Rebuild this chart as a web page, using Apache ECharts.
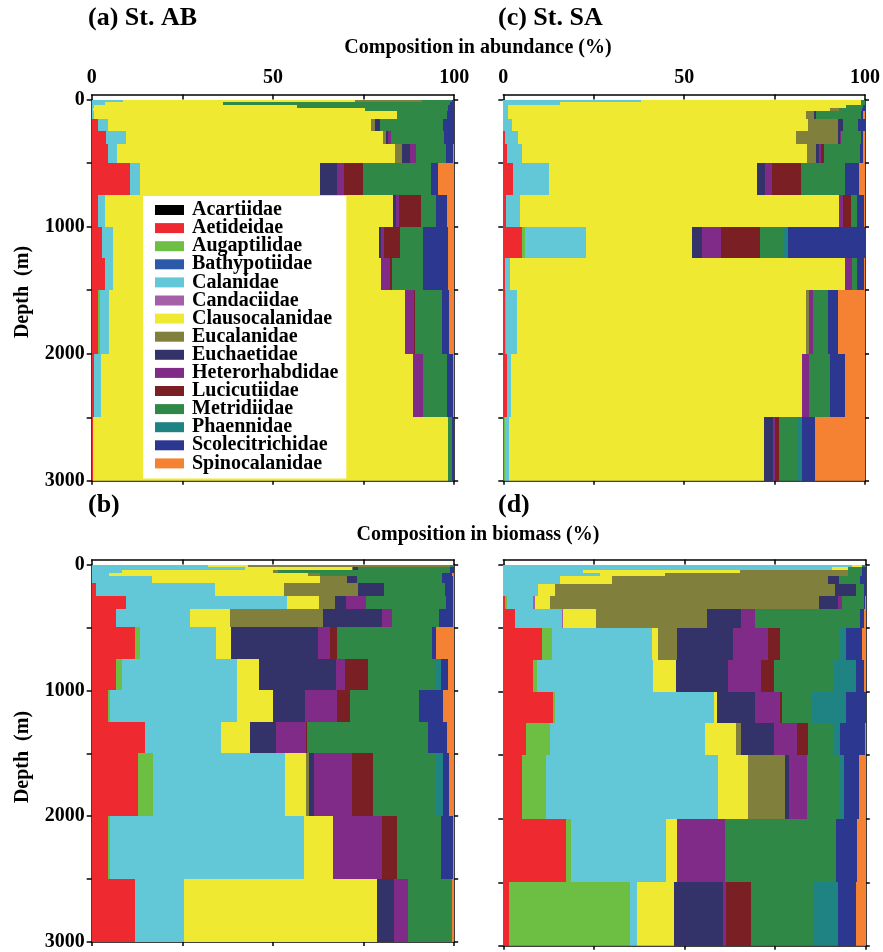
<!DOCTYPE html>
<html>
<head>
<meta charset="utf-8">
<script src="https://cdn.jsdelivr.net/npm/echarts@6/dist/echarts.min.js"></script>
<style>
html, body { margin: 0; padding: 0; background: #fff; }
#main { width: 883px; height: 952px; }
</style>
</head>
<body>
<div id="main"></div>
<script>
const families = ['Acartiidae', 'Aetideidae', 'Augaptilidae', 'Bathypotiidae', 'Calanidae',
    'Candaciidae', 'Clausocalanidae', 'Eucalanidae', 'Euchaetidae', 'Heterorhabdidae',
    'Lucicutiidae', 'Metridiidae', 'Phaennidae', 'Scolecitrichidae', 'Spinocalanidae'];
const familyColors = ['#000000', '#EE2A30', '#6DBF44', '#2A5AA8', '#62C8D7',
    '#A45FA8', '#F0E931', '#807F3C', '#33336A', '#7F2B87',
    '#7A1F24', '#2F8846', '#1F8384', '#2C3790', '#F58232'];

// depth layer edges (m)
const depthEdges = [0, 20, 40, 65, 90, 150, 250, 350, 500, 750, 1000, 1250, 1500, 2000, 2500, 3000];

// one row per depth layer, one value per family (same order as families), %
const abundAB = [
    [0, 0, 0, 0, 8.5, 0, 64, 18.5, 0, 0, 0, 8.3, 0, 0.7, 0],
    [0, 0, 0, 0, 3.7, 0, 32.6, 0, 0, 0, 0, 62.5, 0, 1.2, 0],
    [0, 0, 0, 0, 0.5, 0, 56, 0, 0, 0, 0, 41.8, 0, 1.7, 0],
    [0, 0, 0, 0, 0.4, 0, 75, 0, 0, 0, 0, 22.8, 0, 1.8, 0],
    [0, 0, 0, 0, 0.5, 0, 83.6, 0, 0, 0, 0, 13.8, 0, 2.1, 0],
    [0, 1.7, 0, 0, 2.8, 0, 72.6, 1.1, 1.4, 0, 0, 17.2, 0, 3.2, 0],
    [0, 3.9, 0, 0, 5.5, 0, 71, 0.7, 0.6, 0.9, 0, 14.5, 0, 2.8, 0.1],
    [0, 4.6, 0, 0, 2.5, 0, 76.7, 1.9, 2.2, 1.5, 0, 8.2, 0, 2.1, 0.3],
    [0, 10.6, 0, 0, 2.6, 0, 49.8, 0, 4.8, 1.8, 5.3, 18.8, 0, 1.8, 4.5],
    [0, 1.6, 0, 0, 2.1, 0, 79.5, 0, 0.7, 0.8, 6.1, 4.3, 0, 3, 1.9],
    [0, 2.8, 0, 0, 3.2, 0, 73.3, 0, 0.5, 0.8, 4.4, 6.3, 0, 7.1, 1.6],
    [0, 3.7, 0, 0, 2.3, 0, 73.8, 0, 0, 2.5, 0.6, 8.5, 0, 6.9, 1.7],
    [0, 1.8, 0.6, 0, 2.4, 0, 81.5, 0, 0, 2.6, 0.3, 7.3, 0, 2.1, 1.4],
    [0, 0.7, 0, 0, 2, 0, 86, 0, 0, 2.6, 0.2, 6.4, 0, 1.8, 0.3],
    [0, 0.3, 0, 0, 0, 0, 97.9, 0, 0, 0, 0, 1.2, 0, 0.6, 0]
];
const abundSA = [
    [0, 0, 0, 0, 38.2, 0, 60.7, 0, 0, 0, 0, 1.1, 0, 0, 0],
    [0, 0, 0, 0, 15.6, 0, 83.3, 0, 0, 0, 0, 1.1, 0, 0, 0],
    [0, 0, 0, 0, 1.4, 0, 93.4, 0, 0, 0, 0, 4.6, 0, 0.6, 0],
    [0, 0, 0, 0, 1.4, 0, 89, 2.3, 0, 0, 0, 6.4, 0, 0.9, 0],
    [0, 0, 0, 0, 1.4, 0, 82.3, 2.1, 0.6, 0, 0, 12.4, 0, 0.7, 0.5],
    [0, 0, 0, 0, 2.3, 0.2, 81.7, 8.3, 1.4, 0, 0, 4.1, 0, 1.9, 0],
    [0, 0.6, 0, 0, 3.5, 0, 76.8, 11.5, 0.6, 0.3, 0, 5.5, 0, 0.7, 0.5],
    [0, 1.1, 0, 0, 4.1, 0, 78.9, 2.3, 0.9, 0.5, 0.9, 9.9, 0, 0.9, 0.5],
    [0, 2.6, 0, 0, 10.1, 0, 57.5, 0, 2.2, 1.8, 8, 12.2, 0, 3.9, 1.6],
    [0, 0.7, 0, 0, 4, 0, 88.2, 0, 0, 0.9, 2.4, 1.6, 0, 1.8, 0.4],
    [0, 5.2, 0.7, 0, 17, 0, 29.4, 0, 2.6, 5.2, 10.8, 6.3, 1.6, 21.2, 0],
    [0, 0.4, 0, 0, 1.4, 0, 92.8, 0, 0, 1.8, 0, 1.4, 0, 1.8, 0.4],
    [0, 0.5, 0.3, 0, 2.9, 0, 79.8, 0.9, 0, 1.1, 0, 4.2, 0, 2.7, 7.4],
    [0, 1.1, 0, 0, 1, 0, 80.6, 0, 0, 1.7, 0, 5.9, 0, 4.1, 5.6],
    [0, 0.3, 0.3, 0, 0.9, 0, 70.5, 0, 2.5, 0.5, 1.2, 5.1, 1.2, 3.6, 13.9]
];
const biomAB = [
    [0, 0, 0, 0, 32.2, 0, 11, 55.6, 0, 0, 0, 1.2, 0, 0, 0],
    [0, 0, 0, 0, 42.3, 0, 29.4, 0.5, 1.4, 0, 0, 25.2, 0, 1.2, 0],
    [0, 0, 0, 0, 8.3, 0, 41.8, 1.4, 0, 0, 0, 47.3, 0, 1.2, 0],
    [0, 0, 0, 0, 4.8, 0, 55, 3.2, 0, 0, 0, 33.5, 0, 2.8, 0.7],
    [0, 0, 0, 0, 16.5, 0, 46.4, 7.4, 2.8, 0, 0, 23.4, 0, 3.2, 0.3],
    [0, 1.1, 0, 0, 32.9, 0, 19.1, 20.4, 7.1, 0, 0, 16.8, 0, 2.3, 0.3],
    [0, 9.4, 0, 0, 44.4, 0, 9, 4.3, 3, 5.7, 0, 21.9, 0, 2, 0.3],
    [0, 6.7, 0, 0, 20.4, 0, 11, 25.6, 16.3, 2.9, 0, 12.9, 0, 3.8, 0.4],
    [0, 11.9, 1.4, 0, 21, 0, 4, 0, 24.2, 3.2, 2, 26.2, 0, 1, 5.1],
    [0, 6.7, 1.6, 0, 31.7, 0, 6.2, 0, 21.1, 2.6, 6.4, 18.4, 1.6, 2.1, 1.6],
    [0, 4.6, 0.5, 0, 34.9, 0, 9.9, 0, 8.9, 8.9, 3.5, 19.1, 0, 6.6, 3],
    [0, 14.7, 0, 0, 21, 0, 7.8, 0, 7.4, 8.1, 0.4, 33.4, 0, 5, 2.1],
    [0, 12.7, 4.1, 0, 36.5, 0, 5.7, 1, 1.3, 10.6, 5.8, 17.3, 1.8, 1.8, 1.4],
    [0, 4.6, 0.5, 0, 53.3, 0.2, 8, 0, 0, 13.3, 4.1, 12.2, 0, 3.4, 0.3],
    [0, 11.9, 0, 0, 13.5, 0, 53.3, 0, 4.6, 4, 0, 12.2, 0, 0, 0.5]
];
const biomSA = [
    [0, 0, 0, 0, 96.1, 0, 2.8, 0, 0, 0, 0, 1.1, 0, 0, 0],
    [0, 0, 0, 0, 90.6, 0, 4.6, 0, 0, 0, 0, 3.7, 0, 1.1, 0],
    [0, 0, 0, 0, 22.1, 0, 43.2, 29.9, 0, 0, 0, 3.7, 0, 1.1, 0],
    [0, 0, 0, 0, 26.7, 0, 17.9, 50.6, 0, 0, 0, 3.7, 0, 1.1, 0],
    [0, 0, 0, 0, 15.6, 0, 14.3, 59.8, 2.8, 0, 0, 6, 0, 1.5, 0],
    [0, 0, 0, 0, 9.7, 0, 4.6, 77.3, 5.8, 0, 0, 2, 0, 0.6, 0],
    [0, 0.5, 0.6, 0, 7.2, 0.5, 4.1, 74.2, 5.3, 0.9, 0, 6.3, 0, 0.3, 0.1],
    [0, 3.2, 0, 0, 12.9, 0.5, 8.9, 30.8, 9.3, 3.7, 0, 29.2, 0, 0.9, 0.6],
    [0, 10.6, 2.9, 0, 27.6, 0, 1.5, 5.4, 15.3, 9.7, 3.2, 16.3, 2, 4.4, 1.1],
    [0, 8.3, 1.1, 0, 32, 0, 6.3, 0, 14.4, 9, 3.6, 16.4, 6.2, 2.1, 0.6],
    [0, 13.8, 0.5, 0, 43.7, 0, 0.9, 0, 10.6, 6.7, 0.6, 8, 9.7, 5.4, 0],
    [0, 6.3, 6.6, 0, 42.7, 0, 8.5, 1.6, 8.9, 6.4, 3, 7.1, 1.9, 6.9, 0.1],
    [0, 5.2, 6.7, 0, 47.2, 0, 8.5, 10.1, 1.1, 5.1, 0, 9.1, 0.9, 4.1, 2],
    [0, 17.3, 1.4, 0, 26.2, 0, 2.9, 0, 0, 13.3, 0, 30.6, 0, 6, 2.3],
    [0, 1.7, 33.3, 0, 1.8, 0, 10.4, 0, 13.3, 0.9, 6.8, 17.3, 6.9, 4.8, 2.8]
];

const FONT = '"Liberation Serif", "Times New Roman", serif';

const panels = [
    {rows: abundAB, left: 91.7, top: 99.5, xLabels: true, yLabels: true},
    {rows: abundSA, left: 503.3, top: 99.5, xLabels: true, yLabels: false},
    {rows: biomAB, left: 91.7, top: 564.5, xLabels: false, yLabels: true},
    {rows: biomSA, left: 503.3, top: 564.5, xLabels: false, yLabels: false},
];

// turn layer rows into [x0, x1, depthTop, depthBottom] per family
function buildRects(rows) {
    const out = families.map(() => []);
    rows.forEach((row, li) => {
        const tot = row.reduce((a, b) => a + b, 0);
        let acc = 0;
        row.forEach((v, fi) => {
            if (v <= 0) return;
            const x0 = acc / tot * 100;
            acc += v;
            out[fi].push([x0, acc / tot * 100, depthEdges[li], depthEdges[li + 1]]);
        });
    });
    return out;
}

function renderRect(params, api) {
    const p0 = api.coord([api.value(0), api.value(2)]);
    const p1 = api.coord([api.value(1), api.value(3)]);
    const x0 = Math.round(p0[0]), x1 = Math.round(p1[0]);
    const y0 = Math.round(p0[1]), y1 = Math.round(p1[1]);
    return {
        type: 'rect',
        shape: {x: x0, y: y0, width: x1 - x0, height: y1 - y0},
        style: {fill: api.visual('color')}
    };
}

const axisLine = {show: true, onZero: false, lineStyle: {color: '#000', width: 1.5}};
const tickStyle = {color: '#000', width: 1.5};
const labelStyle = {color: '#000', fontFamily: FONT, fontWeight: 'bold', fontSize: 20};

let grid = [], xAxis = [], yAxis = [], series = [];
panels.forEach((p, i) => {
    grid.push({left: p.left, top: p.top, width: 362.5, height: 381.3});
    xAxis.push({
        gridIndex: i, type: 'value', position: 'top', min: 0, max: 100, interval: 25, offset: 5,
        axisLine: axisLine, axisTick: {inside: true, length: 5, lineStyle: tickStyle},
        axisLabel: Object.assign({show: p.xLabels, margin: 7, formatter: v => v % 50 === 0 ? v : ''}, labelStyle),
        splitLine: {show: false}
    });
    xAxis.push({
        gridIndex: i, type: 'value', position: 'bottom', min: 0, max: 100, interval: 25,
        axisLine: axisLine, axisTick: {inside: false, length: 4, lineStyle: tickStyle},
        axisLabel: {show: false}, splitLine: {show: false}
    });
    yAxis.push({
        gridIndex: i, type: 'value', position: 'left', inverse: true, min: 0, max: 3000, interval: 500,
        axisLine: axisLine, axisTick: {inside: false, length: 5, lineStyle: tickStyle},
        axisLabel: Object.assign({show: p.yLabels, margin: 7, formatter: v => v % 1000 === 0 ? v : ''}, labelStyle),
        splitLine: {show: false}
    });
    yAxis.push({
        gridIndex: i, type: 'value', position: 'right', inverse: true, min: 0, max: 3000, interval: 500,
        axisLine: axisLine, axisTick: {inside: false, length: 4, lineStyle: tickStyle},
        axisLabel: {show: false}, splitLine: {show: false}
    });

    const rects = buildRects(p.rows);
    families.forEach((name, fi) => {
        series.push({
            type: 'custom',
            name: name,
            xAxisIndex: i * 2,
            yAxisIndex: i * 2,
            itemStyle: {color: familyColors[fi]},
            encode: {x: [0, 1], y: [2, 3]},
            renderItem: renderRect,
            clip: true,
            silent: true,
            data: rects[fi]
        });
    });
});

const textStyle = (text, x, y, align, size) => ({
    type: 'text', x: x, y: y,
    style: {text: text, fill: '#000', font: `bold ${size}px ${FONT}`, textAlign: align, textVerticalAlign: 'middle'}
});

const chart = echarts.init(document.getElementById('main'), null, {renderer: 'canvas'});
chart.setOption({
    animation: false,
    backgroundColor: '#fff',
    grid: grid,
    xAxis: xAxis,
    yAxis: yAxis,
    legend: {
        data: families,
        orient: 'vertical',
        left: 143,
        top: 196,
        backgroundColor: '#fff',
        padding: [4, 8, 5, 12],
        itemWidth: 29,
        itemHeight: 10,
        itemGap: -1.9,
        icon: 'rect',
        selectedMode: false,
        textStyle: {color: '#000', fontFamily: FONT, fontWeight: 'bold', fontSize: 20, lineHeight: 18, padding: [0, 0, 0, 3]}
    },
    graphic: [
        textStyle('(a) St. AB', 88, 18, 'left', 26),
        textStyle('(c) St. SA', 498, 18, 'left', 26),
        textStyle('(b)', 88, 505, 'left', 26),
        textStyle('(d)', 498, 505, 'left', 26),
        textStyle('Composition in abundance (%)', 478, 48, 'center', 20),
        textStyle('Composition in biomass (%)', 478, 535, 'center', 20),
        Object.assign(textStyle('Depth  (m)', 23, 292, 'center', 20), {rotation: Math.PI / 2}),
        Object.assign(textStyle('Depth  (m)', 23, 757, 'center', 20), {rotation: Math.PI / 2})
    ],
    series: series
});
</script>
</body>
</html>
